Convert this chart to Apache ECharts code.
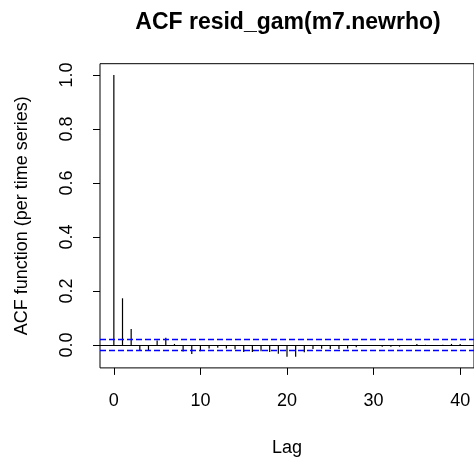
<!DOCTYPE html>
<html>
<head>
<meta charset="utf-8">
<script src="https://cdn.jsdelivr.net/npm/echarts@6/dist/echarts.min.js"></script>
<style>
  html, body { margin: 0; padding: 0; background: #ffffff; }
  #chart { width: 474px; height: 462px; }
</style>
</head>
<body>
<div id="chart"></div>
<script>
// Autocorrelation of GAM residuals, lags 0..40
const titleText = 'ACF resid_gam(m7.newrho)';
const xLabel = 'Lag';
const yLabel = 'ACF function (per time series)';

const lags = [0, 1, 2, 3, 4, 5, 6, 7, 8, 9, 10, 11, 12, 13, 14, 15, 16, 17, 18, 19, 20,
              21, 22, 23, 24, 25, 26, 27, 28, 29, 30, 31, 32, 33, 34, 35, 36, 37, 38, 39, 40];
const acfValues = [1.000, 0.173, 0.059, -0.020, -0.020, 0.017, 0.027, 0.004, -0.024, -0.033,
                   -0.023, -0.013, -0.010, -0.013, -0.016, -0.026, -0.026, -0.023, -0.026, -0.032,
                   -0.043, -0.043, -0.027, -0.015, -0.014, -0.015, -0.015, -0.013, -0.008, -0.004,
                   -0.001, -0.006, -0.006, -0.006, -0.001, 0.004, 0.001, -0.001, 0.001, 0.004, 0.004];
// approximate 95% white-noise bounds
const confLimit = 0.0175;

const xTicks = [0, 10, 20, 30, 40];
const yTicks = [0, 0.2, 0.4, 0.6, 0.8, 1.0];

// base-graphics style limits: data range padded by 4% each side
function padRange(lo, hi) {
  const d = (hi - lo) * 0.04;
  return [lo - d, hi + d];
}
const xLim = padRange(Math.min(...lags), Math.max(...lags));
const yLim = padRange(Math.min(...acfValues, -confLimit), Math.max(...acfValues, confLimit));

const FONT = '"Liberation Sans", Arial, sans-serif';

const chart = echarts.init(document.getElementById('chart'), null, { renderer: 'canvas' });

chart.setOption({
  animation: false,
  backgroundColor: '#ffffff',
  title: {
    text: titleText,
    left: 283,
    top: 6,
    textAlign: 'center',
    textStyle: { fontFamily: FONT, fontSize: 23, fontWeight: 'bold', color: '#000', lineHeight: 23 }
  },
  grid: {
    left: 100, right: -2, top: 63.7, bottom: 94.1,
    show: true, borderColor: '#000', borderWidth: 1, backgroundColor: 'transparent'
  },
  xAxis: {
    type: 'value',
    min: xLim[0], max: xLim[1],
    splitLine: { show: false },
    axisLine: { show: false, onZero: false },
    axisTick: { show: true, customValues: xTicks, length: 7, lineStyle: { color: '#000', width: 1 } },
    axisLabel: { customValues: xTicks, fontFamily: FONT, fontSize: 18, color: '#000', margin: 24, lineHeight: 18 },
    name: xLabel,
    nameLocation: 'middle',
    nameGap: 71,
    nameTextStyle: { fontFamily: FONT, fontSize: 18, color: '#000', lineHeight: 18 }
  },
  yAxis: {
    type: 'value',
    min: yLim[0], max: yLim[1],
    splitLine: { show: false },
    axisLine: { show: false, onZero: false },
    axisTick: { show: true, customValues: yTicks, length: 7, lineStyle: { color: '#000', width: 1 } },
    axisLabel: {
      customValues: yTicks, rotate: 90, fontFamily: FONT, fontSize: 18, color: '#000',
      margin: 24, lineHeight: 18,
      formatter: v => v.toFixed(1)
    },
    name: yLabel,
    nameLocation: 'middle',
    nameRotate: 90,
    nameGap: 69,
    nameTextStyle: { fontFamily: FONT, fontSize: 18, color: '#000', lineHeight: 18 }
  },
  series: [{
    type: 'custom',
    data: lags.map((l, i) => [l, acfValues[i]]),
    encode: { x: 0, y: 1 },
    renderItem(params, api) {
      const x = api.value(0);
      const y = api.value(1);
      const base = api.coord([x, 0]);
      const tip = api.coord([x, y]);
      return {
        type: 'line',
        shape: { x1: base[0], y1: base[1], x2: tip[0], y2: tip[1] },
        style: { stroke: '#000', lineWidth: 1.2 }
      };
    },
    markLine: {
      silent: true,
      symbol: ['none', 'none'],
      label: { show: false },
      data: [
        { yAxis: 0, lineStyle: { color: '#000', type: 'solid', width: 1 } },
        { yAxis: confLimit, lineStyle: { color: '#0000ff', type: [6, 3], width: 1.3 } },
        { yAxis: -confLimit, lineStyle: { color: '#0000ff', type: [6, 3], width: 1.3 } }
      ]
    }
  }]
});
</script>
</body>
</html>
